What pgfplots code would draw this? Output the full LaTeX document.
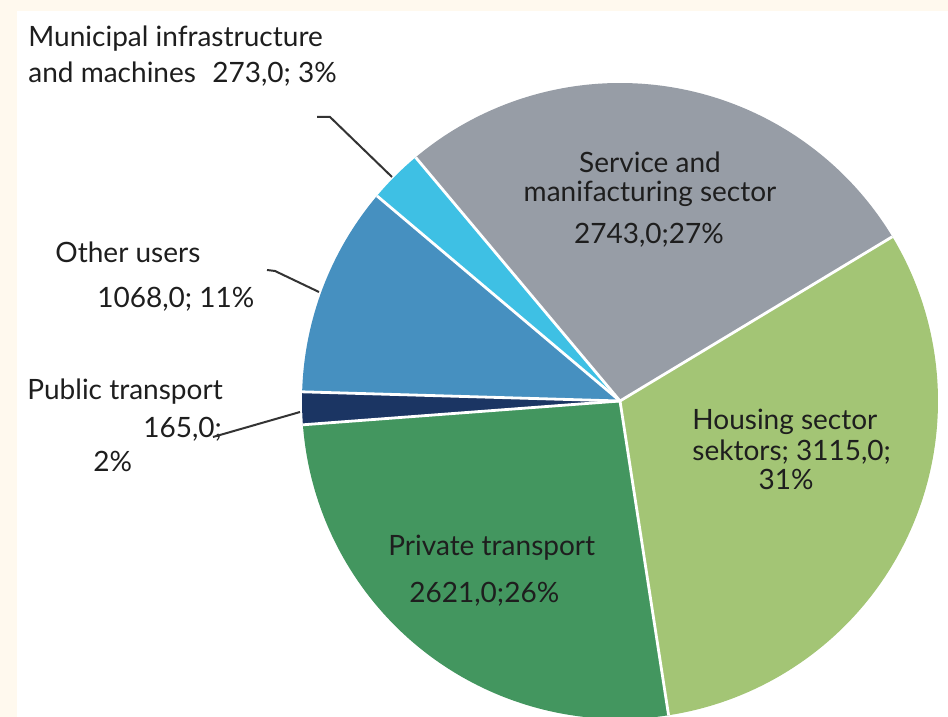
\documentclass[border=0pt]{standalone}
\usepackage{fontspec}
\setmainfont{Lato}
\usepackage{pgfplots}
\usepackage{pgfplotstable}
\pgfplotsset{compat=1.18}
\definecolor{cream}{HTML}{FFF9EE}
\definecolor{slice0}{HTML}{979DA6}
\definecolor{slice1}{HTML}{3EC0E4}
\definecolor{slice2}{HTML}{4690C0}
\definecolor{slice3}{HTML}{1B3563}
\definecolor{slice4}{HTML}{43965F}
\definecolor{slice5}{HTML}{A3C575}
\definecolor{txt}{HTML}{1E1E1E}
\definecolor{lead}{HTML}{333333}
% order: Service, Municipal, Other users, Public transport, Private transport, Housing
\pgfplotstableread{
value
2743
273
1068
165
2621
3115
}\pietab
\def\pietotal{0}%
\pgfplotsforeachungrouped \i in {0,...,5}{%
  \pgfplotstablegetelem{\i}{value}\of\pietab
  \pgfmathsetmacro\pietotal{\pietotal+\pgfplotsretval}%
}%
\def\piecum{0}%
\pgfplotsforeachungrouped \i in {0,...,5}{%
  \pgfplotstablegetelem{\i}{value}\of\pietab
  \pgfmathsetmacro\pieS{31.1+360*(\piecum/\pietotal)}%
  \pgfmathsetmacro\piecum{\piecum+\pgfplotsretval}%
  \pgfmathsetmacro\pieE{31.1+360*(\piecum/\pietotal)}%
  \expandafter\xdef\csname pieS\i\endcsname{\pieS}%
  \expandafter\xdef\csname pieE\i\endcsname{\pieE}%
}%
\begin{document}
\begin{tikzpicture}
\begin{axis}[width=474pt, height=358.5pt, scale only axis,
  xmin=0, xmax=948, ymin=0, ymax=717, axis lines=none, clip=true]
\fill[cream] (axis cs:0,0) rectangle (axis cs:948,717);
\fill[white] (axis cs:17,0) rectangle (axis cs:948,706);
\pgfplotsinvokeforeach{0,...,5}{%
  \fill[slice#1] (axis cs:620,316) -- ++(\csname pieS#1\endcsname:159pt)
    arc[start angle=\csname pieS#1\endcsname, end angle=\csname pieE#1\endcsname, radius=159pt] -- cycle;
}
\pgfplotsinvokeforeach{0,...,5}{%
  \draw[white, line width=1.4pt] (axis cs:620,316) -- ++(\csname pieS#1\endcsname:159pt);
}
\begin{scope}[every node/.style={font=\fontsize{14pt}{16pt}\selectfont, text=txt, inner sep=0pt}]
\node[anchor=base west] at (axis cs:28,670) {Municipal infrastructure};
\node[anchor=base west] at (axis cs:28,634) {and machines};
\node[anchor=base west] at (axis cs:212,634) {273,0; 3\%};
\node[anchor=base west] at (axis cs:55,454) {Other users};
\node[anchor=base west] at (axis cs:97,409) {1068,0; 11\%};
\node[anchor=base west] at (axis cs:27,317) {Public transport};
\node[anchor=base west] at (axis cs:143,279) {165,0;};
\node[anchor=base west] at (axis cs:93,245) {2\%};
\node[anchor=base] at (axis cs:650,544) {Service and};
\node[anchor=base] at (axis cs:650,515) {manifacturing sector};
\node[anchor=base] at (axis cs:649,473) {2743,0;27\%};
\node[anchor=base west] at (axis cs:692,287) {Housing sector};
\node[anchor=base west] at (axis cs:692,256) {sektors; 3115,0;};
\node[anchor=base] at (axis cs:786,227) {31\%};
\node[anchor=base west] at (axis cs:388,161) {Private transport};
\node[anchor=base west] at (axis cs:409,114) {2621,0;26\%};
\end{scope}
\draw[lead, line width=1pt] (axis cs:317,600) -- (axis cs:330,600) -- (axis cs:392,540);
\draw[lead, line width=1pt] (axis cs:267,447) -- (axis cs:275,446) -- (axis cs:319,425);
\draw[lead, line width=1pt] (axis cs:213,280) -- (axis cs:300,305);
\end{axis}
\pgfresetboundingbox
\path[use as bounding box] (0,0) rectangle (474pt,358.5pt);
\end{tikzpicture}
\end{document}
